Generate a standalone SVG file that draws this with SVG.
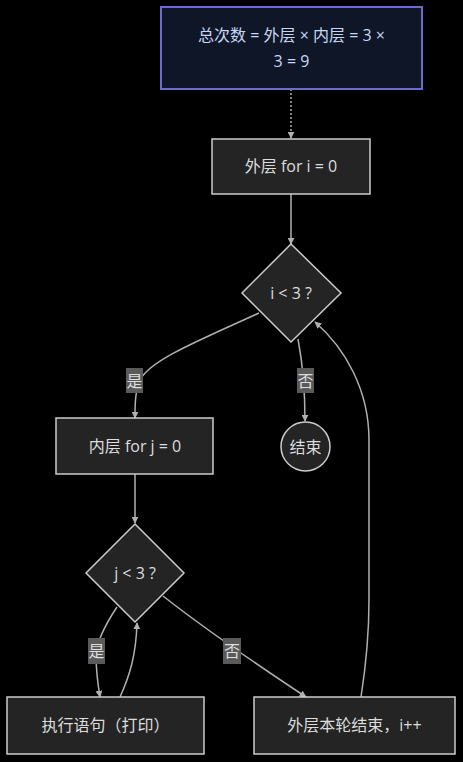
<svg xmlns="http://www.w3.org/2000/svg" width="463" height="762" viewBox="0 0 463 762">
<defs>
<style>
text{font-family:"Open Sans","Noto Sans CJK SC",sans-serif;font-size:16px;fill:#dddddd;text-anchor:middle;dominant-baseline:central}
.box{fill:#242424;stroke:#cccccc;stroke-width:1.5}
.note{fill:#0f1628;stroke:#6c6cd0;stroke-width:2}
.note-t{fill:#c9d8f2}
.edge{fill:none;stroke:#b0b0b0;stroke-width:1.5}
.dot{stroke-dasharray:2 2}
.lbl{fill:#5a5a5a}
</style>
<marker id="ah" viewBox="0 0 10 10" refX="9" refY="5" markerWidth="7" markerHeight="7" orient="auto-start-reverse" markerUnits="userSpaceOnUse">
<path d="M0,0 L10,5 L0,10 z" fill="#b0b0b0"/>
</marker>
</defs>
<rect width="463" height="762" fill="#000000"/>
<g id="connectors">
<path class="edge dot" d="M291,89 L291,138" marker-end="url(#ah)"/>
<path class="edge" d="M291,194 L291,244" marker-end="url(#ah)"/>
<path class="edge" d="M259,313 C200,340 150,360 140,380 C135,392 135,405 135,418" marker-end="url(#ah)"/>
<path class="edge" d="M298,339 C302,360 305,390 305,421" marker-end="url(#ah)"/>
<path class="edge" d="M135,474 L135,523" marker-end="url(#ah)"/>
<path class="edge" d="M117,607 C105,625 97,640 96,655 C96,670 98,685 100,697" marker-end="url(#ah)"/>
<path class="edge" d="M120,697 C130,675 136,655 137,623" marker-end="url(#ah)"/>
<path class="edge" d="M163,596 C200,625 250,660 306,697" marker-end="url(#ah)"/>
<path class="edge" d="M361,697 C366,665 369,630 369,600 L369,440 C369,390 345,348 315,322" marker-end="url(#ah)"/>
</g>
<g id="n-note">
<rect class="note" x="161" y="7" width="261" height="82"/>
<text class="note-t" x="291.5" y="35">总次数 = 外层 × 内层 = 3 ×</text>
<text class="note-t" x="291.5" y="61">3 = 9</text>
</g>
<g id="n-outer">
<rect class="box" x="212" y="139" width="158" height="55"/>
<text x="291" y="166">外层 for i = 0</text>
</g>
<g id="n-cond-i">
<polygon class="box" points="291,244 341,293 291,342 242,293"/>
<text x="291" y="293">i &lt; 3 ?</text>
</g>
<g id="n-end">
<circle class="box" cx="305.5" cy="446.5" r="24.5"/>
<text x="305.5" y="446.5">结束</text>
</g>
<g id="n-inner">
<rect class="box" x="56" y="418" width="157" height="56"/>
<text x="135" y="446">内层 for j = 0</text>
</g>
<g id="n-cond-j">
<polygon class="box" points="135,524 184,573 135,622 86,573"/>
<text x="135" y="573">j &lt; 3 ?</text>
</g>
<g id="n-exec">
<rect class="box" x="7" y="697" width="197" height="57"/>
<text x="105.5" y="725">执行语句（打印）</text>
</g>
<g id="n-incr">
<rect class="box" x="254" y="697" width="201" height="57"/>
<text x="354.5" y="725">外层本轮结束，i++</text>
</g>
<g id="labels">
<rect class="lbl" x="126" y="368" width="17" height="25"/>
<text x="134.5" y="380.5">是</text>
<rect class="lbl" x="297" y="368" width="17" height="25"/>
<text x="305.5" y="380.5">否</text>
<rect class="lbl" x="88" y="638" width="17" height="26"/>
<text x="96.5" y="651">是</text>
<rect class="lbl" x="223" y="638" width="18" height="26"/>
<text x="232" y="651">否</text>
</g>
</svg>
